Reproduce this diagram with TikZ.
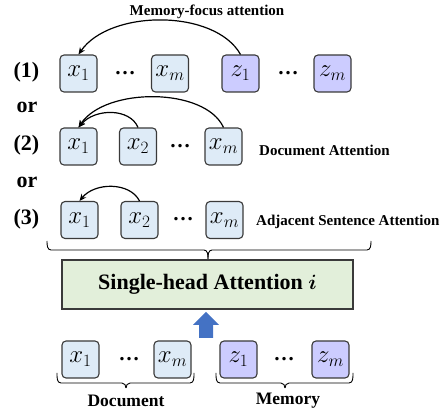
\documentclass[tikz,border=0pt]{standalone}
\usepackage{amsmath}
\usepackage{fontspec}
\setmainfont{Liberation Serif}
\usetikzlibrary{arrows.meta}
\definecolor{docblue}{HTML}{DEEBF7}
\definecolor{mempurple}{HTML}{CCCCFF}
\definecolor{attgreen}{HTML}{E2EFDA}
\definecolor{arrowblue}{HTML}{4472C4}
\definecolor{edge}{HTML}{3A3A3A}
\tikzset{
  tok/.style={draw=edge, line width=1.1pt, rounded corners=4pt, minimum width=37pt, minimum height=37pt, inner sep=0pt, font=\fontsize{24}{24}\selectfont},
  doc/.style={tok, fill=docblue},
  mem/.style={tok, fill=mempurple},
  dotsn/.style={inner sep=0pt, font=\fontsize{21}{21}\selectfont\bfseries},
  lbl/.style={inner sep=0pt, font=\fontsize{22}{22}\selectfont\bfseries},
  side/.style={inner sep=0pt, anchor=west, font=\fontsize{15}{15}\selectfont\bfseries},
  attn/.style={line width=1.2pt, -{Stealth[length=7pt,width=6pt]}},
  brline/.style={line width=0.9pt, draw=black}
}
% square-ish brace: left x, right x, tip x, top y, line y, tip y
\newcommand{\sqbrace}[6]{%
  \draw[brline] (#1,#4) to[out=-90,in=180] (#1+4,#5) -- (#3-4,#5) to[out=0,in=90] (#3,#6);
  \draw[brline] (#2,#4) to[out=-90,in=0] (#2-4,#5) -- (#3+4,#5) to[out=180,in=90] (#3,#6);
}
\begin{document}
\begin{tikzpicture}[x=1pt,y=1pt]
\useasboundingbox (0,0) rectangle (448,415);
% title
\node[inner sep=0pt, font=\fontsize{15}{15}\selectfont\bfseries] (title) at (207,403) {Memory-focus attention};
% row labels
\node[lbl] (l1) at (26.5,343) {(1)};
\node[lbl] (or1) at (27,308) {or};
\node[lbl] (l2) at (26.5,270) {(2)};
\node[lbl] (or2) at (27,233) {or};
\node[lbl] (l3) at (26.5,196) {(3)};
% row 1
\node[doc] (a1) at (78.5,341.5) {$x_1$};
\node[dotsn] (ad) at (125,342) {…};
\node[doc] (am) at (170,341.5) {$x_m$};
\node[mem] (az1) at (240.5,341.5) {$z_1$};
\node[dotsn] (azd) at (288,342) {…};
\node[mem] (azm) at (332.5,341.5) {$z_m$};
\draw[attn] (az1.north) .. controls (215,406) and (110,406) .. (a1.north);
% row 2
\node[doc] (b1) at (78.5,268.5) {$x_1$};
\node[doc] (b2) at (138,268.5) {$x_2$};
\node[dotsn] (bd) at (180,269) {…};
\node[doc] (bm) at (223.5,268.5) {$x_m$};
\node[side] (bt) at (259,265) {Document Attention};
\draw[attn] (bm.north) .. controls (205,328) and (105,328) .. (b1.north);
\draw[attn] (b2.north) .. controls (130,307) and (95,307) .. (b1.north);
% row 3
\node[doc] (c1) at (79.5,195) {$x_1$};
\node[doc] (c2) at (139.5,195) {$x_2$};
\node[dotsn] (cd) at (183,195.5) {…};
\node[doc] (cm) at (224.5,195) {$x_m$};
\node[side] (ct) at (256,193) {Adjacent Sentence Attention};
\draw[attn] (c2.north) .. controls (130,233) and (95,233) .. (c1.north);
% brace over rows
\sqbrace{47}{371}{208}{174}{165}{156}
% attention box
\node[draw=edge, line width=1.1pt, fill=attgreen, minimum width=291pt, minimum height=49pt, inner sep=0pt, font=\fontsize{22}{22}\selectfont\bfseries] (att) at (207.5,130.5) {Single-head Attention $\boldsymbol{i}$};
% block arrow
\fill[arrowblue] (199,77) -- (213,77) -- (213,90) -- (219,90) -- (206,103) -- (193,90) -- (199,90) -- cycle;
% bottom row
\node[doc] (d1) at (80.5,55.5) {$x_1$};
\node[dotsn] (dd) at (129,56) {…};
\node[doc] (dm) at (172.5,55.5) {$x_m$};
\node[mem] (e1) at (238.5,55.5) {$z_1$};
\node[dotsn] (ed) at (284,56) {…};
\node[mem] (em) at (330.5,55.5) {$z_m$};
\sqbrace{57}{194}{126}{42}{32}{27}
\sqbrace{216}{353}{285}{42}{32}{27}
\node[inner sep=0pt, font=\fontsize{17.5}{17.5}\selectfont\bfseries] (doclbl) at (126,14) {Document};
\node[inner sep=0pt, font=\fontsize{17.5}{17.5}\selectfont\bfseries] (memlbl) at (288,14) {Memory};
\end{tikzpicture}
\end{document}
